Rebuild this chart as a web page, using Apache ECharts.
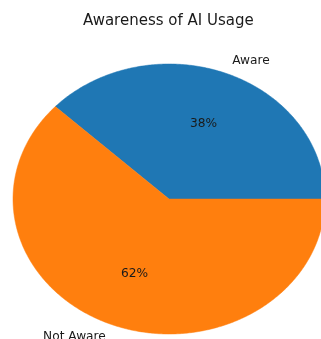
<!DOCTYPE html>
<html>
<head>
<meta charset="utf-8">
<script src="https://cdn.jsdelivr.net/npm/echarts@6/dist/echarts.min.js"></script>
<style>
  html, body { margin: 0; padding: 0; background: #ffffff; }
  #chart { width: 321px; height: 339px; }
</style>
</head>
<body>
<div id="chart"></div>
<script>
// Survey answers: share of respondents aware of AI usage
const categories = ['Aware', 'Not Aware'];
const shares = [38, 62];
const sliceColors = ['#1f77b4', '#ff7f0e'];

const chart = echarts.init(document.getElementById('chart'), null, { renderer: 'canvas' });

const total = shares.reduce((s, v) => s + v, 0);
const FONT = '"DejaVu Sans", sans-serif';

// Elliptical pie: slices start at 3 o'clock and run counter-clockwise
function renderSlice(params, api) {
  const idx = params.dataIndex;
  const value = api.value(0);
  let before = 0;
  for (let i = 0; i < idx; i++) before += shares[i];
  const cx = 169, cy = 199, rx = 156, ry = 135;
  const a0 = before / total * Math.PI * 2;
  const a1 = (before + value) / total * Math.PI * 2;
  const pts = [[cx, cy]];
  const steps = Math.max(8, Math.ceil((a1 - a0) / 0.01));
  for (let k = 0; k <= steps; k++) {
    const t = a0 + (a1 - a0) * k / steps;
    pts.push([cx + rx * Math.cos(t), cy - ry * Math.sin(t)]);
  }
  const mid = (a0 + a1) / 2;
  const c = Math.cos(mid), s = Math.sin(mid);
  const pct = Math.round(value / total * 100) + '%';
  return {
    type: 'group',
    children: [
      {
        type: 'polygon',
        shape: { points: pts },
        style: { fill: sliceColors[idx], stroke: sliceColors[idx], lineWidth: 0.5 }
      },
      {
        type: 'text',
        z2: 10,
        style: {
          x: cx + 0.6 * rx * c, y: cy - 0.6 * ry * s,
          text: pct, fill: '#1a1a1a', font: '12.2px ' + FONT,
          align: 'center', verticalAlign: 'middle'
        }
      },
      {
        type: 'text',
        z2: 10,
        style: {
          x: cx + 1.1 * rx * c, y: cy - 1.1 * ry * s,
          text: api.value(1), fill: '#1a1a1a', font: '12.2px ' + FONT,
          align: c >= 0 ? 'left' : 'right', verticalAlign: 'middle'
        }
      }
    ]
  };
}

chart.setOption({
  animation: false,
  backgroundColor: '#ffffff',
  title: {
    text: 'Awareness of AI Usage',
    left: 78,
    top: 9,
    textStyle: { fontFamily: FONT, fontSize: 15, fontWeight: 'normal', color: '#1a1a1a' }
  },
  series: [{
    type: 'custom',
    coordinateSystem: 'none',
    renderItem: renderSlice,
    data: shares.map((v, i) => [v, categories[i]])
  }]
});
</script>
</body>
</html>
